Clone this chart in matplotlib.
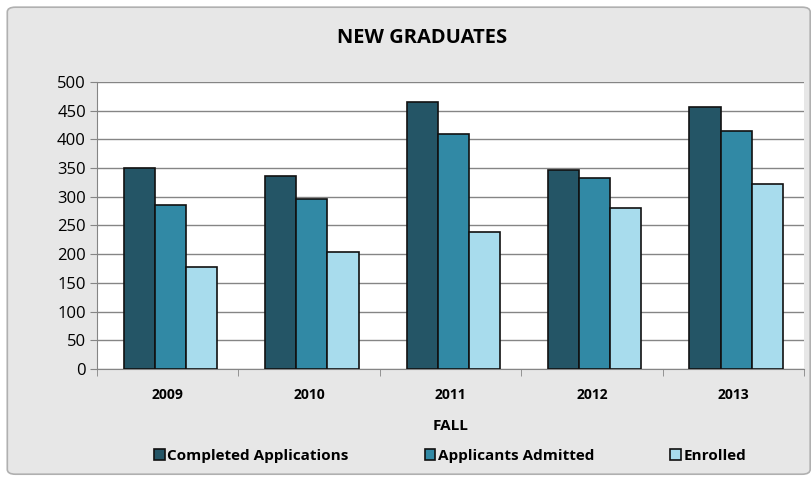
import matplotlib
matplotlib.use("Agg")
import matplotlib.pyplot as plt
import numpy as np
from matplotlib.patches import FancyBboxPatch

years = ["2009", "2010", "2011", "2012", "2013"]
completed = [350, 337, 465, 347, 456]
admitted = [286, 296, 409, 332, 415]
enrolled = [177, 203, 239, 280, 322]
series_names = ["Completed Applications", "Applicants Admitted", "Enrolled"]
colors = ["#245566", "#3189a5", "#a8dced"]

plt.rcParams['font.family'] = ['Open Sans', 'DejaVu Sans']

fig = plt.figure(figsize=(8.11, 4.79), dpi=100)
fig.patch.set_facecolor("white")

# outer chart frame
frame = FancyBboxPatch((0.009, 0.01), 0.99, 0.975, boxstyle="round,pad=0,rounding_size=0.01",
                       transform=fig.transFigure, facecolor="#e7e7e7", edgecolor="#b0b0b0",
                       linewidth=1.2, zorder=-10)
fig.patches.append(frame)

ax = fig.add_axes([97 / 811, 1 - 369 / 479, (804 - 97) / 811, (369 - 82) / 479])
ax.set_zorder(2)
ax.set_facecolor("white")

x = np.arange(len(years))
w = 0.22
for i, (vals, c) in enumerate(zip([completed, admitted, enrolled], colors)):
    ax.bar(x + (i - 1) * w + 0.02, vals, width=w, color=c, edgecolor="#111111",
           linewidth=1.2, label=series_names[i], zorder=3)

ax.set_xlim(-0.5, len(years) - 0.5)
ax.set_ylim(0, 500)
ax.set_yticks(range(0, 501, 50))
ax.yaxis.grid(True, color="#858585", linewidth=1, zorder=0)
ax.set_xticks(x)
ax.set_xticklabels(years, fontsize=10, fontweight="bold")
ax.set_xticks(np.arange(-0.5, len(years)), minor=True)
ax.tick_params(axis="x", which="major", length=0, pad=14)
ax.tick_params(axis="x", which="minor", length=5, color="#858585")
ax.tick_params(axis="y", labelsize=12, length=5, color="#858585", pad=3)
for side in ["top", "right"]:
    ax.spines[side].set_visible(False)
for side in ["left", "bottom"]:
    ax.spines[side].set_color("#858585")

ax.set_xlabel("FALL", fontsize=11, fontweight="bold", labelpad=12)
fig.text(0.52, 1 - 38 / 479, "NEW GRADUATES", ha="center", va="center",
         fontsize=14.5, fontweight="bold")

leg = fig.legend(loc="center", bbox_to_anchor=(0.555, 1 - 456 / 479), ncol=3,
                 frameon=False, prop={"size": 11, "weight": "bold"},
                 handlelength=0.7, handleheight=0.7, handletextpad=0.15,
                 columnspacing=5.0)

fig.savefig("out.png", dpi=100)
